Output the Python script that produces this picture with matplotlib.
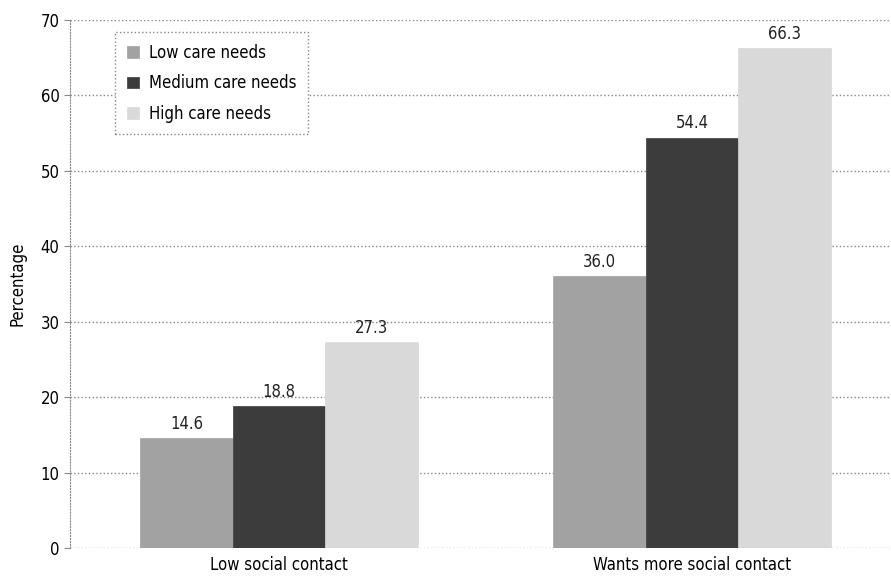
import numpy as np
import matplotlib
matplotlib.use("Agg")
import matplotlib.pyplot as plt

# --- dados ---
categories = ["Low social contact", "Wants more social contact"]
series_names = ["Low care needs", "Medium care needs", "High care needs"]
low_care = [14.6, 36.0]
medium_care = [18.8, 54.4]
high_care = [27.3, 66.3]

colors = ["#a2a2a2", "#3c3c3c", "#d9d9d9"]

plt.rcParams["font.family"] = ["Liberation Sans Narrow", "DejaVu Sans"]
plt.rcParams["font.stretch"] = "condensed"

fig = plt.figure(figsize=(8.91, 5.8), dpi=100)
ax = fig.add_axes([0.0786, 0.0552, 0.9214, 0.9103])

x = np.arange(len(categories))
width = 0.224
for i, (vals, name, c) in enumerate(zip([low_care, medium_care, high_care], series_names, colors)):
    bars = ax.bar(x + (i - 1) * width, vals, width, color=c, label=name, zorder=2,
                  edgecolor=c, linewidth=0.5)
    for b, v in zip(bars, vals):
        ax.text(b.get_x() + b.get_width() / 2, v + 0.7, f"{v:.1f}",
                ha="center", va="bottom", fontsize=12, color="#222222")

ax.set_xlim(-0.506, 1.482)
ax.set_ylim(0, 70)
ax.set_yticks(range(0, 71, 10))
ax.set_xticks(x)
ax.set_xticklabels(categories, fontsize=12)
ax.tick_params(axis="x", length=0, pad=6)
ax.tick_params(axis="y", labelsize=12, length=4, color="#888888", direction="out")
ax.set_ylabel("Percentage", fontsize=12, labelpad=10)

ax.grid(axis="y", linestyle=":", color="#888888", linewidth=1, zorder=0)
for s in ["top", "right", "bottom"]:
    ax.spines[s].set_visible(False)
ax.spines["left"].set_linestyle(":")
ax.spines["left"].set_color("#888888")

leg = ax.legend(loc="upper left", bbox_to_anchor=(0.055, 0.977), borderaxespad=0,
                fontsize=12, frameon=True, fancybox=False, edgecolor="#888888",
                framealpha=1, handlelength=0.7, handleheight=0.7, handletextpad=0.6,
                borderpad=0.7, labelspacing=0.75)
leg.get_frame().set_linestyle(":")

fig.savefig("out.png", dpi=100)
